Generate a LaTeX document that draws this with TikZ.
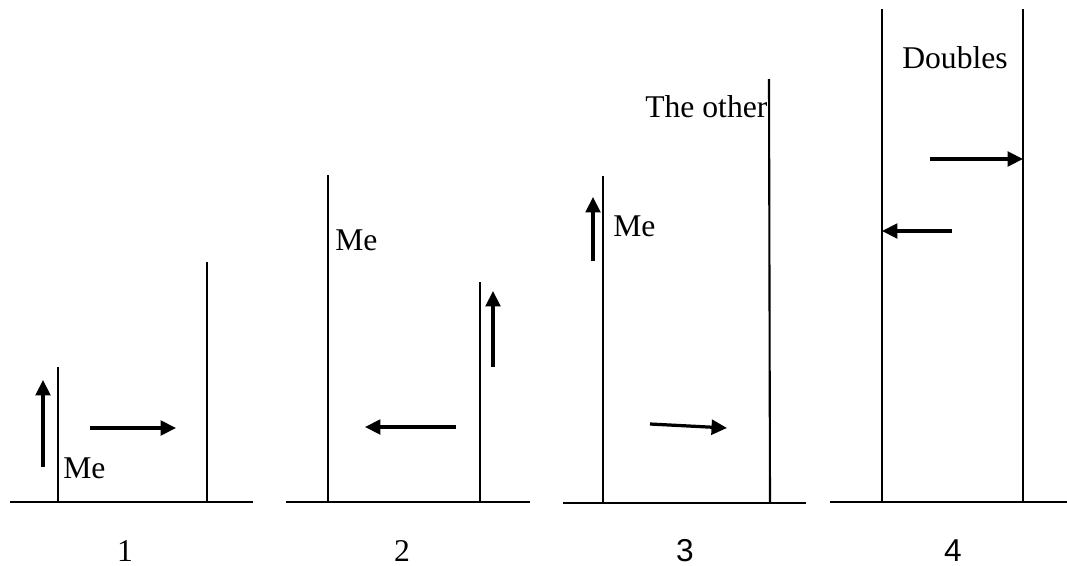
\documentclass[tikz,border=0pt]{standalone}
\usepackage{fontspec}
\setmainfont{Liberation Serif}
\newfontfamily\digitsans{Liberation Sans}
\usetikzlibrary{arrows.meta,positioning}

\begin{document}
\begin{tikzpicture}[
  x=0.025cm,y=-0.025cm,
  wall/.style={line width=1.5pt},
  ground/.style={line width=1.5pt},
  move/.style={-{Triangle[length=11pt,width=10.5pt]},line width=2.3pt},
  tag/.style={anchor=base west,inner sep=0pt,font=\fontsize{22.5}{26}\selectfont},
  num/.style={anchor=base,inner sep=0pt,font=\fontsize{22.5}{26}\selectfont}
]
  \useasboundingbox (0,0) rectangle (1067,566);
  % panel 1
  \coordinate (g1a) at (10,502);   \coordinate (g1b) at (253,502);
  \coordinate (m1b) at (58,502);   \coordinate (m1t) at (58,367);
  \coordinate (o1b) at (207,502);  \coordinate (o1t) at (207,262);
  \draw[ground] (g1a) -- (g1b);
  \draw[wall] (m1b) -- (m1t);
  \draw[wall] (o1b) -- (o1t);
  \coordinate (u1s) at (43,467);   \coordinate (u1e) at (43,380);
  \coordinate (h1s) at (90,428);   \coordinate (h1e) at (176,428);
  \draw[move] (u1s) -- (u1e);
  \draw[move] (h1s) -- (h1e);
  \node[tag] (me1) at (63,478) {Me};
  \node[num] (n1) at (125,561) {1};
  % panel 2
  \coordinate (g2a) at (286,502);  \coordinate (g2b) at (530,502);
  \coordinate (m2b) at (328,502);  \coordinate (m2t) at (328,175);
  \coordinate (o2b) at (480,502);  \coordinate (o2t) at (480,282);
  \draw[ground] (g2a) -- (g2b);
  \draw[wall] (m2b) -- (m2t);
  \draw[wall] (o2b) -- (o2t);
  \coordinate (u2s) at (493,367);  \coordinate (u2e) at (493,291);
  \coordinate (h2s) at (456,427);  \coordinate (h2e) at (365,427);
  \draw[move] (u2s) -- (u2e);
  \draw[move] (h2s) -- (h2e);
  \node[tag] (me2) at (335,250) {Me};
  \node[num] (n2) at (402,561) {2};
  % panel 3
  \coordinate (g3a) at (563,503);  \coordinate (g3b) at (806,503);
  \coordinate (m3b) at (603,503);  \coordinate (m3t) at (603,176);
  \coordinate (o3b) at (770,503);  \coordinate (o3t) at (769,79);
  \draw[ground] (g3a) -- (g3b);
  \draw[wall] (m3b) -- (m3t);
  \draw[wall] (o3b) -- (o3t);
  \coordinate (u3s) at (593,261);  \coordinate (u3e) at (593,197);
  \coordinate (h3s) at (650,424);  \coordinate (h3e) at (727,428);
  \draw[move] (u3s) -- (u3e);
  \draw[move] (h3s) -- (h3e);
  \node[tag] (other) at (645,117) {The other};
  \node[tag] (me3) at (613,236) {Me};
  \node[num] (n3) at (685,561) {\digitsans 3};
  % panel 4
  \coordinate (g4a) at (830,502);  \coordinate (g4b) at (1067,502);
  \coordinate (d4b) at (882,502);  \coordinate (d4t) at (882,9);
  \coordinate (e4b) at (1023,502); \coordinate (e4t) at (1023,9);
  \draw[ground] (g4a) -- (g4b);
  \draw[wall] (d4b) -- (d4t);
  \draw[wall] (e4b) -- (e4t);
  \coordinate (h4s) at (930,159);  \coordinate (h4e) at (1023,159);
  \coordinate (k4s) at (952,231);  \coordinate (k4e) at (882,231);
  \draw[move] (h4s) -- (h4e);
  \draw[move] (k4s) -- (k4e);
  \node[tag] (dbl) at (902,68) {Doubles};
  \node[num] (n4) at (953,561) {\digitsans 4};
\end{tikzpicture}
\end{document}
